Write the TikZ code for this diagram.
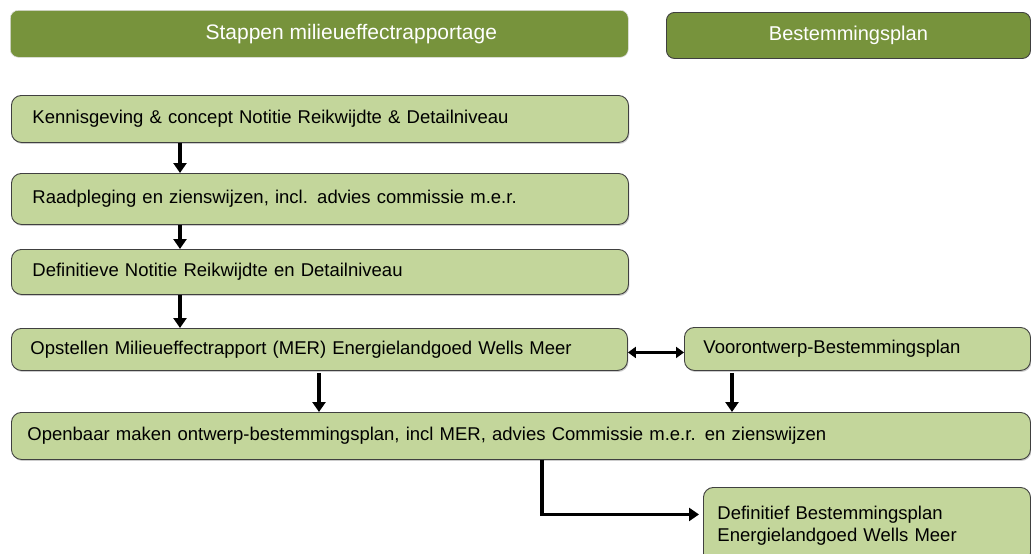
\documentclass[tikz,border=0pt]{standalone}
\usepackage{fontspec}
\setmainfont{Liberation Sans}
\usetikzlibrary{arrows.meta,shadows}
\definecolor{hdr}{HTML}{77933C}
\definecolor{boxfill}{HTML}{C3D69B}
\definecolor{edge}{HTML}{404040}
\begin{document}
\begin{tikzpicture}[x=1pt,y=-1pt,
  stepbox/.style={draw=edge, line width=0.9pt, fill=boxfill, rounded corners=10pt,
    anchor=north west, align=left, inner ysep=0pt,
    drop shadow={shadow xshift=1pt, shadow yshift=-1.5pt, fill=black!40, opacity=0.5},
    font=\fontsize{18.5}{22}\selectfont},
  hdrbox/.style={fill=hdr, rounded corners=8pt, anchor=north west, inner sep=0pt,
    text=white, font=\fontsize{20}{24}\selectfont},
  flow/.style={line width=3.5pt, -{Triangle[width=13pt,length=10pt]}},
  dflow/.style={line width=3pt, {Triangle[width=11pt,length=8pt]}-{Triangle[width=11pt,length=8pt]}}
]
\useasboundingbox (0,0) rectangle (1031,554);

% headers
\node[hdrbox, draw=gray!25, line width=0.6pt, minimum width=618pt, minimum height=47pt] (h1) at (10,10)
  {\hspace*{64pt}\fontsize{21}{24}\selectfont Stappen milieueffectrapportage};
\node[hdrbox, draw=edge, line width=0.9pt, minimum width=364pt, minimum height=46pt] (h2) at (666,12)
  {Bestemmingsplan};

% step boxes
\node[stepbox, minimum height=47pt, text width=575pt, inner xsep=21pt] (b1) at (11,95)
  {Kennisgeving \& concept Notitie Reikwijdte \& Detailniveau};
\node[stepbox, minimum height=51pt, text width=575pt, inner xsep=21pt] (b2) at (11,173)
  {Raadpleging en zienswijzen, incl. advies commissie m.e.r.};
\node[stepbox, minimum height=45pt, text width=575pt, inner xsep=21pt] (b3) at (11,249)
  {Definitieve Notitie Reikwijdte en Detailniveau};
\node[stepbox, minimum height=42pt, text width=578pt, inner xsep=19pt] (b4) at (11,328)
  {Opstellen Milieueffectrapport (MER) Energielandgoed Wells Meer};
\node[stepbox, minimum height=43pt, text width=308pt, inner xsep=19pt] (vb) at (684,327)
  {\raisebox{4pt}{Voorontwerp-Bestemmingsplan}};
\node[stepbox, minimum height=47pt, text width=987pt, inner xsep=16pt] (b5) at (11,412)
  {Openbaar maken ontwerp-bestemmingsplan, incl MER, advies Commissie m.e.r. en zienswijzen};
\node[stepbox, minimum height=76pt, text width=299pt, inner xsep=14pt] (b6) at (703,487)
  {Definitief Bestemmingsplan\\Energielandgoed Wells Meer};

% connectors
\draw[flow] ([xshift=169pt]b1.south west) -- ([xshift=169pt]b2.north west);
\draw[flow] ([xshift=169pt]b2.south west) -- ([xshift=169pt]b3.north west);
\draw[flow] ([xshift=169pt]b3.south west) -- ([xshift=169pt]b4.north west);
\draw[flow] ([xshift=308pt,yshift=-2pt]b4.south west) -- ([xshift=308pt]b5.north west);
\draw[flow] ([xshift=48pt,yshift=-2pt]vb.south west) -- ([xshift=721pt]b5.north west);
\draw[dflow] ([yshift=-3pt]b4.east) -- ([yshift=-3pt]b4.east -| vb.west);
\draw[flow, shorten >=4pt] ([xshift=531pt]b5.south west) |- ([yshift=11pt]b6.west);
\end{tikzpicture}
\end{document}
